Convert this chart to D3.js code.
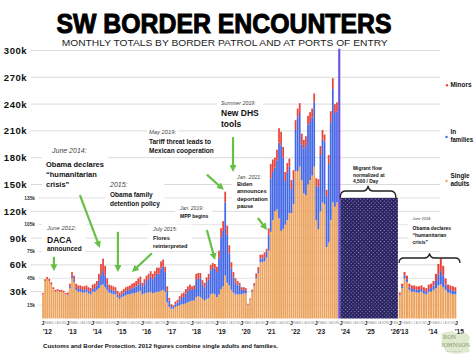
<!DOCTYPE html>
<html><head><meta charset="utf-8">
<script src="https://cdn.jsdelivr.net/npm/d3@7"></script>
<style>
html,body{margin:0;padding:0;background:#fff;}
svg{display:block;font-family:"Liberation Sans",Arial,Helvetica,sans-serif;}
</style></head><body>
<svg id="chart" width="474" height="355"></svg>
<script>
// ---------------- DATA (thousands of encounters) ----------------
const years = [2012,2013,2014,2015,2016,2017,2018,2019,2020,2021,2022,2023];
const monthInitials = ["J","F","M","A","M","J","J","A","S","O","N","D"];
const singleAdults = [
 27,42,44,42,38,33,30,31,30,30,29,27,        // 2012 (adults + families)
 26,34,45,41,32,30,30,29,29,30,28,27,        // 2013
 30,30,32,34,37,38,35,32,29,28,27,27,        // 2014
 24,22,24,25,26,27,27,28,28,29,30,31,        // 2015
 27,28,29,29,30,28,29,30,30,31,32,30,        // 2016
 18,13,11,11,13,14,15,16,16,17,18,19,        // 2017
 20,20,24,25,24,22,20,22,23,27,28,27,        // 2018
 24,27,33,36,48,40,37,32,29,27,27,27,        // 2019
 27,28,28,15,21,30,36,45,51,63,63,64,        // 2020
 68,76,97,110,120,122,112,98,100,105,110,118,// 2021
 118,128,165,165,170,155,140,138,150,155,160,170, // 2022
 110,100,120,130,128,80,85,110,130,125,130,140    // 2023
];
const inFamilies = [
 0,0,0,0,0,0,0,0,0,0,0,0,
 1,2,3,3,3,3,3,3,3,3,3,3,
 3,4,5,8,12,15,13,6,4,4,4,4,
 3,3,3,4,5,5,5,6,7,7,8,9,
 9,11,14,15,17,16,18,20,20,25,26,22,
 13,7,3,2,3,4,6,8,8,11,13,14,
 12,13,19,20,21,16,15,19,21,27,29,29,
 28,41,58,62,82,54,36,24,17,13,11,10,
 5,4,3,0.5,0.5,0.7,1,1.5,2,4,4,5,
 7,18,60,54,49,55,85,96,80,49,53,52,
 27,28,46,60,60,40,50,56,67,65,65,72,
 39,47,63,70,70,57,88,110,127,105,102,150
];
const minors = [
 1.5,2,2.5,2.5,2.5,2,2,2,2,2,2,1.5,
 2,3,4,4,4,4,4,4,4,4,4,4,
 5,5,5,8,12,14,11,7,5,5,5,4,
 4,4,4,4,4,4,5,5,5,6,7,7,
 4,5,5,6,6,6,6,7,7,8,8,6,
 5,3,2,2,3,3,4,4,5,5,5,5,
 4,4,7,6,6,5,5,5,6,6,5,5,
 6,8,10,11,12,10,9,7,6,5,4,3,
 3,3,3,1,1,1.5,2.5,4,4.5,4.5,4.5,5,
 3,7,16,14,11,12,16,15,12,10,11,9,
 10,10,11,10,11,12,10,10,10,11,10,10,
 8,9,10,11,8,7,10,12,12,10,10,12
];
const highlightMonth = "2023-12";
const projectionStart = "2024-01", projectionEnd = "2026-04", projectionLevel = 135;
const insetYears = [2013, 2014];
const yearTickLabels = ["'12","'13","'14","'15","'16","'17","'18","'19","'20","'21","'22","'23","'24","'25","'26"];
const insetTickLabels = ["'13","'14","'15"];
const majorTicks = [30,60,90,120,150,180,210,240,270,300];
const minorTicks = [15,45,75,105,135];
const seriesKeys = ["adults","families","minors"];
const legendLabels = [["Minors"],["In","families"],["Single","adults"]];

// ---------------- SETUP ----------------
const svg = d3.select("#chart");
const fmt = d3.utcFormat("%Y-%m"), parse = d3.utcParse("%Y-%m"), parseDay = d3.utcParse("%Y-%m-%d");
const colors = {adults:"#EBA35D", families:"#4467E6", minors:"#E8443A"};
const purple = "#6E52E0", green = "#66C046";

const dataMonths = [];
years.forEach(y => monthInitials.forEach((_, i) => dataMonths.push(`${y}-${String(i+1).padStart(2,"0")}`)));
const rows = dataMonths.map((m,i)=>({month:m, adults:singleAdults[i], families:inFamilies[i], minors:minors[i]}));
const endDate = d3.utcMonth.offset(parse(projectionEnd),1);
const axisMonths = d3.utcMonth.range(parse(dataMonths[0]), endDate).map(fmt);

const STEP = 2.07, X0 = 42;
const x = d3.scaleBand().domain(axisMonths).range([X0, X0+STEP*axisMonths.length]).paddingInner(0.16).paddingOuter(0.08);
const tx = d3.scaleUtc().domain([parse(axisMonths[0]), endDate]).range(x.range());
const y = d3.scaleLinear().domain([0,300]).range([318.5,50.5]);

const insetRows = rows.filter(r => insetYears.includes(+r.month.slice(0,4)));
const xi = d3.scaleBand().domain(insetRows.map(r=>r.month)).range([398.5,456.5]).paddingInner(0.16).paddingOuter(0.08);

const defs = svg.append("defs");
const pat = defs.append("pattern").attr("id","hatch").attr("width",2.6).attr("height",2.6)
  .attr("patternUnits","userSpaceOnUse").attr("patternTransform","rotate(45)");
pat.append("rect").attr("width",2.6).attr("height",2.6).attr("fill","#27215C");
pat.append("rect").attr("width",1).attr("height",1).attr("fill","#9890D4");
const mk = defs.append("marker").attr("id","ah").attr("markerUnits","userSpaceOnUse")
  .attr("viewBox","0 0 10 10").attr("refX",10).attr("refY",5).attr("markerWidth",7).attr("markerHeight",7)
  .attr("orient","auto");
mk.append("path").attr("d","M0,0 L10,5 L0,10 z").attr("fill",green);

const gGrid = svg.append("g"), gMask = svg.append("g"), gBars = svg.append("g"),
      gAxis = svg.append("g"), gAnno = svg.append("g"), gArrow = svg.append("g");

// ---------------- TITLE ----------------
svg.append("text").attr("x",224).attr("y",32.7).attr("text-anchor","middle")
  .attr("font-size",27).attr("font-weight","bold").attr("fill","#000").attr("stroke","#000").attr("stroke-width",1)
  .attr("textLength",335).attr("lengthAdjust","spacingAndGlyphs").text("SW BORDER ENCOUNTERS");
svg.append("text").attr("x",224.7).attr("y",46).attr("text-anchor","middle")
  .attr("font-size",9.3).attr("fill","#222")
  .attr("textLength",326).attr("lengthAdjust","spacingAndGlyphs").text("MONTHLY TOTALS BY BORDER PATROL AND AT PORTS OF ENTRY");

// ---------------- GRID + Y LABELS ----------------
majorTicks.forEach(t=>{
  gGrid.append("line").attr("x1",31).attr("x2",440).attr("y1",y(t)).attr("y2",y(t)).attr("stroke","#d6d6d6").attr("stroke-width",0.9);
  gGrid.append("text").attr("x",27).attr("y",y(t)+3.4).attr("text-anchor","end").attr("font-size",9.5)
    .attr("font-weight","bold").attr("letter-spacing",0.5).attr("fill","#111").text(t+"k");
});
minorTicks.forEach(t=>{
  gGrid.append("line").attr("x1",38).attr("x2",440).attr("y1",y(t)).attr("y2",y(t)).attr("stroke","#dcdcdc").attr("stroke-width",0.8);
  gGrid.append("text").attr("x",35).attr("y",y(t)+1.7).attr("text-anchor","end").attr("font-size",4.8)
    .attr("font-weight","bold").attr("fill","#333").text(t+"k");
});

// ---------------- BARS ----------------
const stack = d3.stack().keys(seriesKeys);
function drawBars(data, sx){
  const mainData = data.filter(r=>r.month!==highlightMonth);
  stack(mainData).forEach(layer=>{
    gBars.append("g").attr("fill",colors[layer.key]).selectAll("rect").data(layer).join("rect")
      .attr("x",d=>sx(d.data.month)).attr("width",sx.bandwidth())
      .attr("y",d=>y(d[1])).attr("height",d=>Math.max(0,y(d[0])-y(d[1])));
  });
  data.filter(r=>r.month===highlightMonth).forEach(r=>{
    const tot = seriesKeys.reduce((s,k)=>s+r[k],0);
    gBars.append("rect").attr("x",sx(r.month)).attr("width",sx.bandwidth()+0.4)
      .attr("y",y(tot)).attr("height",y(0)-y(tot)).attr("fill",purple);
  });
}
drawBars(rows, x);
drawBars(insetRows, xi);

// projection block
gBars.append("rect").attr("x",x(projectionStart)).attr("width",x(projectionEnd)+x.bandwidth()-x(projectionStart))
  .attr("y",y(projectionLevel)).attr("height",y(0)-y(projectionLevel)).attr("fill","url(#hatch)");

// ---------------- X AXIS ----------------
function drawAxis(months, sx, labels, extraEnd){
  let yi = 0;
  months.forEach(m=>{
    const mi = +m.slice(5)-1, cx = sx(m)+sx.bandwidth()/2;
    if(mi===0){
      gAxis.append("text").attr("x",cx).attr("y",324.5).attr("text-anchor","middle").attr("font-size",5.2)
        .attr("font-weight","bold").attr("fill","#222").text("J");
      gAxis.append("text").attr("x",sx(m)+0.8).attr("y",333.6).attr("font-size",6.6)
        .attr("font-weight","bold").attr("fill","#222").text(labels[yi++]);
    } else {
      gAxis.append("text").attr("x",cx).attr("y",323.8).attr("text-anchor","middle").attr("font-size",2.6)
        .attr("fill","#888").text(monthInitials[mi]);
    }
  });
  if(extraEnd){
    const ex = sx.range()[1];
    gAxis.append("text").attr("x",ex).attr("y",324.5).attr("text-anchor","middle").attr("font-size",5.2)
      .attr("font-weight","bold").attr("fill","#222").text("J");
    gAxis.append("text").attr("x",ex-1.5).attr("y",333.6).attr("font-size",6.6)
      .attr("font-weight","bold").attr("fill","#222").text(labels[yi++]);
  }
}
drawAxis(axisMonths, x, yearTickLabels, false);
drawAxis(insetRows.map(r=>r.month), xi, insetTickLabels, true);

// ---------------- ANNOTATIONS ----------------
const annotations = [
 {x:47, mask:"block", lines:[
   {t:"June 2012:", y:230, k:"date", s:5.9},
   {t:"DACA", y:242.5, k:"bold", s:8.5},
   {t:"announced", y:251, k:"bold", s:6.5}]},
 {x:46, mask:"block", lines:[
   {t:"June 2014:", y:153, k:"date", s:7, dx:6},
   {t:"Obama declares", y:167, k:"bold", s:7.5},
   {t:"\u201Chumanitarian", y:177, k:"bold", s:7.5},
   {t:"crisis\u201D", y:187, k:"bold", s:7.5}]},
 {x:110, mask:"block", lines:[
   {t:"2015:", y:187, k:"date", s:7},
   {t:"Obama family", y:196.5, k:"bold", s:6.5},
   {t:"detention policy", y:206, k:"bold", s:6.5}]},
 {x:153, mask:"block", lines:[
   {t:"July 2015:", y:231, k:"date", s:5.3},
   {t:"Flores", y:239.5, k:"bold", s:5.6},
   {t:"reinterpreted", y:247.5, k:"bold", s:5.6}]},
 {x:149, mask:"line", lines:[
   {t:"May 2019:", y:133.5, k:"date", s:5.8},
   {t:"Tariff threat leads to", y:144, k:"bold", s:6.5},
   {t:"Mexican cooperation", y:153, k:"bold", s:6.5}]},
 {x:180, mask:"block", lines:[
   {t:"Jan. 2019:", y:209.5, k:"date", s:5},
   {t:"MPP begins", y:218, k:"bold", s:5}]},
 {x:221, mask:"block", lines:[
   {t:"Summer 2019:", y:105, k:"date", s:5.3},
   {t:"New DHS", y:116, k:"bold", s:8.5},
   {t:"tools", y:126.5, k:"bold", s:8.5}]},
 {x:237, mask:"block", lines:[
   {t:"Jan. 2021:", y:178.5, k:"date", s:5.3},
   {t:"Biden", y:186, k:"bold", s:5.6},
   {t:"announces", y:193.2, k:"bold", s:5.6},
   {t:"deportation", y:200.5, k:"bold", s:5.6},
   {t:"pause", y:207.5, k:"bold", s:5.6}]},
 {x:353, mask:"none", lines:[
   {t:"Migrant flow", y:170, k:"bold", s:4.9},
   {t:"normalized at", y:176.5, k:"bold", s:4.9},
   {t:"4,500 / Day", y:182.6, k:"bold", s:4.9}]},
 {x:412.5, mask:"block", lines:[
   {t:"June 2014:", y:219.5, k:"date", s:3.8},
   {t:"Obama declares", y:229.5, k:"bold", s:5},
   {t:"\u201Chumanitarian", y:236.5, k:"bold", s:5},
   {t:"crisis\u201D", y:243.5, k:"bold", s:5}]}
];
annotations.forEach(a=>{
  const g = gAnno.append("g");
  const nodes = a.lines.map(l=>{
    const t = g.append("text").attr("x",a.x+(l.dx||0)).attr("y",l.y).attr("font-size",l.s).text(l.t);
    if(l.k==="date") t.attr("font-style","italic").attr("fill","#444");
    else t.attr("font-weight","bold").attr("fill","#111");
    return t.node();
  });
  if(a.mask==="block"){
    const b = g.node().getBBox();
    gMask.append("rect").attr("x",b.x-4).attr("y",b.y-1.5).attr("width",b.width+8).attr("height",b.height+3).attr("fill","#fff");
  } else if(a.mask==="line"){
    nodes.forEach(n=>{const b=n.getBBox();
      gMask.append("rect").attr("x",b.x-2).attr("y",b.y).attr("width",b.width+4).attr("height",b.height).attr("fill","#fff");});
  }
});

// arrows anchored with (date, value)
const arrows = [
 {from:["2012-06-24",69], to:["2012-06-24",53]},
 {from:["2013-07-12",138], to:["2014-05-01",79]},
 {from:["2015-01-21",97], to:["2015-01-21",52]},
 {from:["2016-06-04",73], to:["2015-08-15",52]},
 {from:["2018-08-21",161], to:["2019-04-28",144]},
 {from:["2018-08-21",99], to:["2018-12-18",65.5]},
 {from:["2019-09-09",203], to:["2019-09-09",164]},
 {from:["2020-09-10",112.5], to:["2021-01-21",99]}
];
arrows.forEach(a=>{
  const x1=tx(parseDay(a.from[0])), y1=y(a.from[1]), x2=tx(parseDay(a.to[0])), y2=y(a.to[1]);
  const L=Math.hypot(x2-x1,y2-y1), sh=4;
  gArrow.append("line").attr("x1",x1).attr("y1",y1)
    .attr("x2",x2-(x2-x1)/L*sh).attr("y2",y2-(y2-y1)/L*sh)
    .attr("stroke",green).attr("stroke-width",2.2);
  gArrow.append("path").attr("d",`M${x2-(x2-x1)/L*6},${y2-(y2-y1)/L*6} L${x2},${y2}`)
    .attr("stroke","none").attr("marker-end","url(#ah)");
});

// braces
const braces = [
 {x1:x(projectionStart), x2:x(projectionEnd)+x.bandwidth()-2, ly:191, tip:186, ey:198},
 {x1:xi.range()[0]+0.5, x2:xi.range()[1]+3.5, ly:258, tip:253.5, ey:263}
];
braces.forEach(b=>{
  const m=(b.x1+b.x2)/2;
  gAnno.append("path").attr("d",
    `M${b.x1},${b.ey} Q${b.x1},${b.ly} ${b.x1+5},${b.ly} L${m-5},${b.ly} Q${m-1},${b.ly} ${m},${b.tip} Q${m+1},${b.ly} ${m+5},${b.ly} L${b.x2-5},${b.ly} Q${b.x2},${b.ly} ${b.x2},${b.ey}`)
    .attr("fill","none").attr("stroke","#222").attr("stroke-width",1.3);
});

// ---------------- LEGEND ----------------
const legendKeys = ["minors","families","adults"];
const legendPos = [{dot:[447,85.3], ys:[87]},{dot:[446.5,137],ys:[133.5,141.5]},{dot:[446.5,181],ys:[178,186]}];
legendKeys.forEach((k,i)=>{
  gAnno.append("circle").attr("cx",legendPos[i].dot[0]).attr("cy",legendPos[i].dot[1]).attr("r",1.2).attr("fill",colors[k]);
  legendLabels[i].forEach((s,j)=>{
    const t = gAnno.append("text").attr("x",450.5).attr("y",legendPos[i].ys[j])
      .attr("font-size",6.4).attr("font-weight","bold").attr("fill","#111").text(s);
    const w = t.node().getComputedTextLength();
    if(450.5 + w > 473) t.attr("textLength",22.5).attr("lengthAdjust","spacingAndGlyphs");
  });
});

// ---------------- FOOTER + LOGO ----------------
svg.append("text").attr("x",43).attr("y",347.6).attr("font-size",5.9).attr("font-weight","bold").attr("fill","#111")
  .attr("textLength",235).attr("lengthAdjust","spacingAndGlyphs")
  .text("Customs and Border Protection. 2012 figures combine single adults and families.");
const logo = svg.append("g");
logo.append("path").attr("d","M441,333 L452,331 L458,334 L466,333 L470,337 L468,345 L470,352 L455,354 L446,352 L442,344 Z")
  .attr("fill","#dfe9cf");
logo.append("text").attr("x",443).attr("y",339).attr("font-family","Liberation Serif,serif").attr("font-size",6.2).attr("fill","#8a9868").text("RON");
logo.append("text").attr("x",441).attr("y",346.5).attr("font-family","Liberation Serif,serif").attr("font-size",6.4).attr("fill","#8a9868").text("JOHNSON");
logo.append("text").attr("x",447).attr("y",351.5).attr("font-family","Liberation Serif,serif").attr("font-size",2.6).attr("fill","#8a9868").text("U.S. SENATE");
</script>
</body></html>
